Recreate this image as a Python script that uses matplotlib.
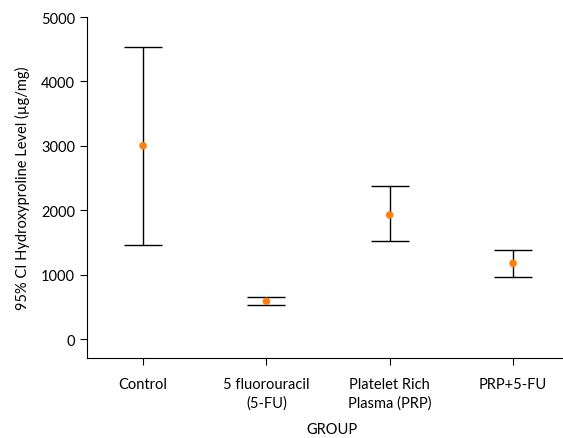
import numpy as np
import matplotlib.pyplot as plt

# Data
groups = ['Control', '5 fluorouracil\n(5-FU)', 'Platelet Rich\nPlasma (PRP)', 'PRP+5-FU']
means = [3000, 585, 1925, 1175]
ci_lower = [1455, 533, 1522, 963]
ci_upper = [4530, 647, 2371, 1382]

plt.rcParams['font.family'] = ['Lato', 'DejaVu Sans']

fig = plt.figure(figsize=(5.63, 4.39), dpi=100)
ax = fig.add_axes([87 / 563, 1 - 359 / 439, 1 - 87 / 563, (359 - 18) / 439])

x = np.arange(len(groups))
means = np.array(means)
yerr = np.array([means - np.array(ci_lower), np.array(ci_upper) - means])

ax.errorbar(x, means, yerr=yerr, fmt='none', ecolor='black', elinewidth=1,
            capsize=14, capthick=1, zorder=2)
ax.scatter(x, means, color='#ff7f0e', s=30, zorder=3, edgecolors='none')

ax.set_xlim(-0.455, 3.405)
ax.set_ylim(-295, 5000)
ax.set_yticks([0, 1000, 2000, 3000, 4000, 5000])
ax.set_xticks(x)
ax.set_xticklabels(groups, fontsize=10.5, linespacing=1.35)
ax.tick_params(axis='y', labelsize=10.5, length=5, width=0.8)
ax.tick_params(axis='x', length=5, width=0.8, pad=9)

ax.set_xlabel('GROUP', fontsize=10.5, va='center')
ax.xaxis.set_label_coords(0.515, -0.208)
ax.set_ylabel('95% CI Hydroxyproline Level (\u00b5g/mg)', fontsize=10.5, labelpad=8)

ax.spines['top'].set_visible(False)
ax.spines['right'].set_visible(False)

fig.savefig('out.png', dpi=100)
